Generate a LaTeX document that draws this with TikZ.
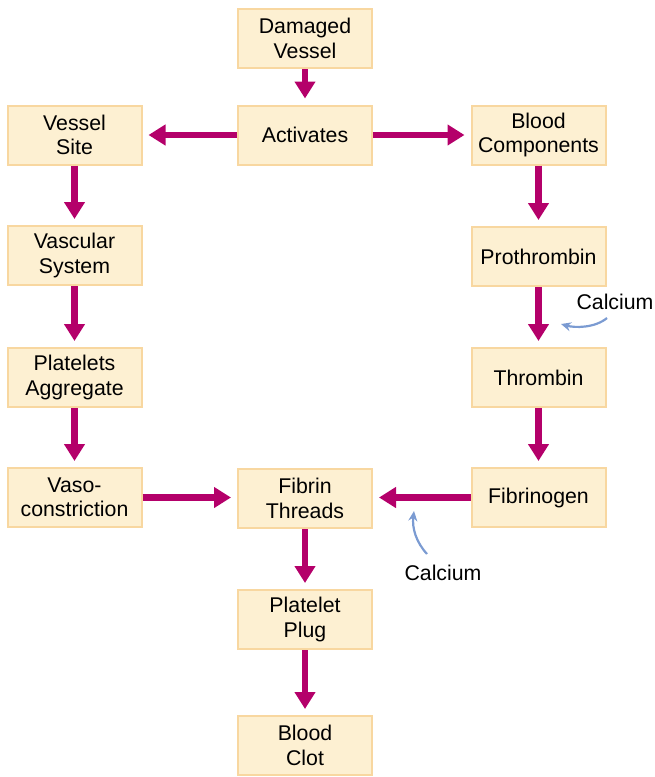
\documentclass[tikz,border=0pt]{standalone}
\usepackage{fontspec}
\setmainfont{Liberation Sans}
\usetikzlibrary{arrows.meta}
\definecolor{boxfill}{HTML}{FDF0D2}
\definecolor{boxline}{HTML}{F8D7A0}
\definecolor{arrowc}{HTML}{B4006A}
\definecolor{calc}{HTML}{7B9BD2}
\tikzset{
  box/.style={draw=boxline, line width=2pt, fill=boxfill, minimum width=134pt, minimum height=59pt,
    align=center, inner sep=0pt, font=\fontsize{21.3}{24.5}\selectfont},
  flow/.style={draw=arrowc, line width=6.5pt, -{Triangle[length=17pt,width=20pt]}, shorten >=6pt},
  calarrow/.style={draw=calc, line width=2.2pt, -{Stealth[length=10pt,width=9pt]}},
  lbl/.style={font=\fontsize{21.3}{24.5}\selectfont, inner sep=0pt}
}
\begin{document}
\begin{tikzpicture}[x=1pt,y=-1pt]
\useasboundingbox (0,0) rectangle (654,777);
\node[box] (dv) at (305,38.5) {Damaged\\Vessel};
\node[box] (act) at (305,135) {Activates};
\node[box] (vs) at (74.5,135) {Vessel\\Site};
\node[box] (bc) at (538.5,135) {Blood\\Components};
\node[box] (vsys) at (74.5,255.5) {Vascular\\System};
\node[box] (pro) at (538.5,256.5) {Prothrombin};
\node[box] (pa) at (74.5,377.5) {Platelets\\Aggregate};
\node[box] (thr) at (538.5,377.5) {Thrombin};
\node[box] (vc) at (74.5,497.5) {Vaso-\\constriction};
\node[box] (ft) at (305,498.5) {Fibrin\\Threads};
\node[box] (fg) at (538.5,497.5) {Fibrinogen};
\node[box] (pp) at (305,619.5) {Platelet\\Plug};
\node[box] (bcl) at (305,745.5) {Blood\\Clot};

\draw[flow] (dv) -- (act);
\draw[flow] (act) -- (vs);
\draw[flow] (act) -- (bc);
\draw[flow] (vs) -- (vsys);
\draw[flow] (vsys) -- (pa);
\draw[flow] (pa) -- (vc);
\draw[flow] (bc) -- (pro);
\draw[flow] (pro) -- (thr);
\draw[flow] (thr) -- (fg);
\draw[flow] (vc.east) -- (ft.west |- vc.east);
\draw[flow] (fg.west) -- (ft.east |- fg.west);
\draw[flow] (ft) -- (pp);
\draw[flow] (pp) -- (bcl);

\node[lbl] (ca1) at (615,302) {Calcium};
\node[lbl] (ca2) at (443,573) {Calcium};
\coordinate (c1s) at (607,318);
\coordinate (c1e) at (561,324);
\coordinate (c2s) at (427,554);
\coordinate (c2e) at (414,511);
\draw[calarrow] (c1s) .. controls (595,328) and (575,328) .. (c1e);
\draw[calarrow] (c2s) .. controls (416,542) and (412,528) .. (c2e);
\end{tikzpicture}
\end{document}
